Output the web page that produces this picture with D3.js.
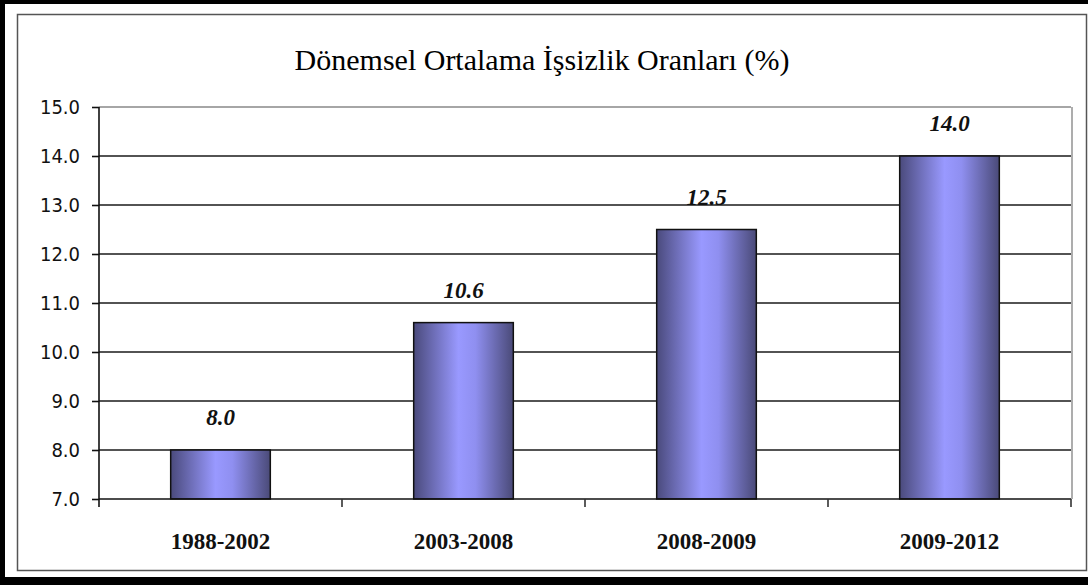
<!DOCTYPE html>
<html>
<head>
<meta charset="utf-8">
<script src="https://cdn.jsdelivr.net/npm/d3@7"></script>
<style>
  body { margin:0; padding:0; background:#000; }
  svg { display:block; }
</style>
</head>
<body>
<div id="chart"></div>
<script>

// data
var categories = ["1988-2002", "2003-2008", "2008-2009", "2009-2012"];
var rates = [8.0, 10.6, 12.5, 14.0];
var yTicks = [7, 8, 9, 10, 11, 12, 13, 14, 15];
var title = "Dönemsel Ortalama İşsizlik Oranları (%)";

var W = 1088, H = 585;
var plot = {left:99, right:1071, top:107, bottom:499};

var svg = d3.select("#chart").append("svg")
    .attr("width", W)
    .attr("height", H);

// black frame + white page
svg.append("rect").attr("width", W).attr("height", H).attr("fill", "#000");
svg.append("rect").attr("x", 5).attr("y", 4).attr("width", W - 5).attr("height", 573).attr("fill", "#fff");
// chart area border
svg.append("rect")
    .attr("x", 17.5).attr("y", 14.5)
    .attr("width", 1069).attr("height", 556)
    .attr("fill", "none").attr("stroke", "#555").attr("stroke-width", 1.5);

var defs = svg.append("defs");
var grad = defs.append("linearGradient").attr("id", "barGrad")
    .attr("x1", "0%").attr("x2", "100%").attr("y1", "0%").attr("y2", "0%");
grad.append("stop").attr("offset", "0%").attr("stop-color", "#4a4a7c");
grad.append("stop").attr("offset", "45%").attr("stop-color", "#9999ff");
grad.append("stop").attr("offset", "62%").attr("stop-color", "#8f8ff0");
grad.append("stop").attr("offset", "100%").attr("stop-color", "#4a4a78");

var xScale = d3.scaleBand().domain(categories).range([plot.left, plot.right]).padding(0);
var yScale = d3.scaleLinear().domain([7, 15]).range([plot.bottom, plot.top]);

// title
svg.append("text")
    .attr("x", 542).attr("y", 70)
    .attr("text-anchor", "middle")
    .style("font-family", "'Liberation Serif', 'Times New Roman', serif")
    .style("font-size", "30px")
    .attr("fill", "#000")
    .text(title);

// gridlines
svg.append("g").selectAll("line")
    .data(yTicks.filter(function(d) { return d > 7; }))
    .enter().append("line")
    .attr("x1", plot.left).attr("x2", plot.right)
    .attr("y1", function(d) { return yScale(d); })
    .attr("y2", function(d) { return yScale(d); })
    .attr("stroke", function(d) { return d == 15 ? "#888" : "#1a1a1a"; })
    .attr("stroke-width", 1.6);

// plot area right border
svg.append("line")
    .attr("x1", plot.right + 1).attr("x2", plot.right + 1)
    .attr("y1", plot.top).attr("y2", plot.bottom)
    .attr("stroke", "#999").attr("stroke-width", 1.6);

// bars
var barW = xScale.bandwidth() * 0.41;
svg.selectAll(".bar")
    .data(rates)
    .enter().append("rect")
    .attr("class", "bar")
    .attr("x", function(d, i) { return xScale(categories[i]) + (xScale.bandwidth() - barW) / 2; })
    .attr("y", function(d) { return yScale(d); })
    .attr("width", barW)
    .attr("height", function(d) { return yScale(7) - yScale(d); })
    .attr("fill", "url(#barGrad)")
    .attr("stroke", "#111")
    .attr("stroke-width", 1.5);

// value labels
svg.selectAll(".label")
    .data(rates)
    .enter().append("text")
    .attr("class", "label")
    .attr("x", function(d, i) { return xScale(categories[i]) + xScale.bandwidth() / 2; })
    .attr("y", function(d) { return yScale(d) - 25; })
    .attr("text-anchor", "middle")
    .style("font-family", "'Liberation Serif', 'Times New Roman', serif")
    .style("font-size", "23px")
    .style("font-weight", "bold")
    .style("font-style", "italic")
    .attr("fill", "#111")
    .text(function(d) { return d.toFixed(1); });

// y axis
var yAxis = d3.axisLeft(yScale).tickValues(yTicks).tickSize(7).tickPadding(12)
    .tickFormat(function(d) { return d.toFixed(1); });
var yAxis_g = svg.append("g")
    .attr("transform", "translate(" + plot.left + ",0)")
    .call(yAxis);
yAxis_g.select(".domain").attr("stroke", "#111").attr("stroke-width", 1.6)
    .attr("d", "M0," + plot.top + "V" + (plot.bottom + 8));
yAxis_g.selectAll(".tick line").attr("stroke", "#111").attr("stroke-width", 1.6);
yAxis_g.selectAll("text")
    .style("font-family", "'Liberation Sans Narrow', 'DejaVu Sans Condensed', sans-serif")
    .style("font-size", "20px")
    .attr("fill", "#111");

// x axis
var xAxis = d3.axisBottom(xScale).tickSize(0).tickPadding(34);
var xAxis_g = svg.append("g")
    .attr("transform", "translate(0," + plot.bottom + ")")
    .call(xAxis);
xAxis_g.select(".domain").attr("stroke", "#111").attr("stroke-width", 1.6)
    .attr("d", "M" + plot.left + ",0H" + plot.right);
xAxis_g.selectAll("text")
    .style("font-family", "'Liberation Serif', 'Times New Roman', serif")
    .style("font-size", "23px")
    .style("font-weight", "bold")
    .attr("fill", "#111");

// boundary ticks between categories
var bounds = categories.slice(1).map(function(c) { return xScale(c); }).concat([plot.right]);
xAxis_g.selectAll(".btick")
    .data(bounds)
    .enter().append("line")
    .attr("class", "btick")
    .attr("x1", function(d) { return d; }).attr("x2", function(d) { return d; })
    .attr("y1", 0).attr("y2", 8)
    .attr("stroke", "#333").attr("stroke-width", 1.6);

</script>
</body>
</html>
